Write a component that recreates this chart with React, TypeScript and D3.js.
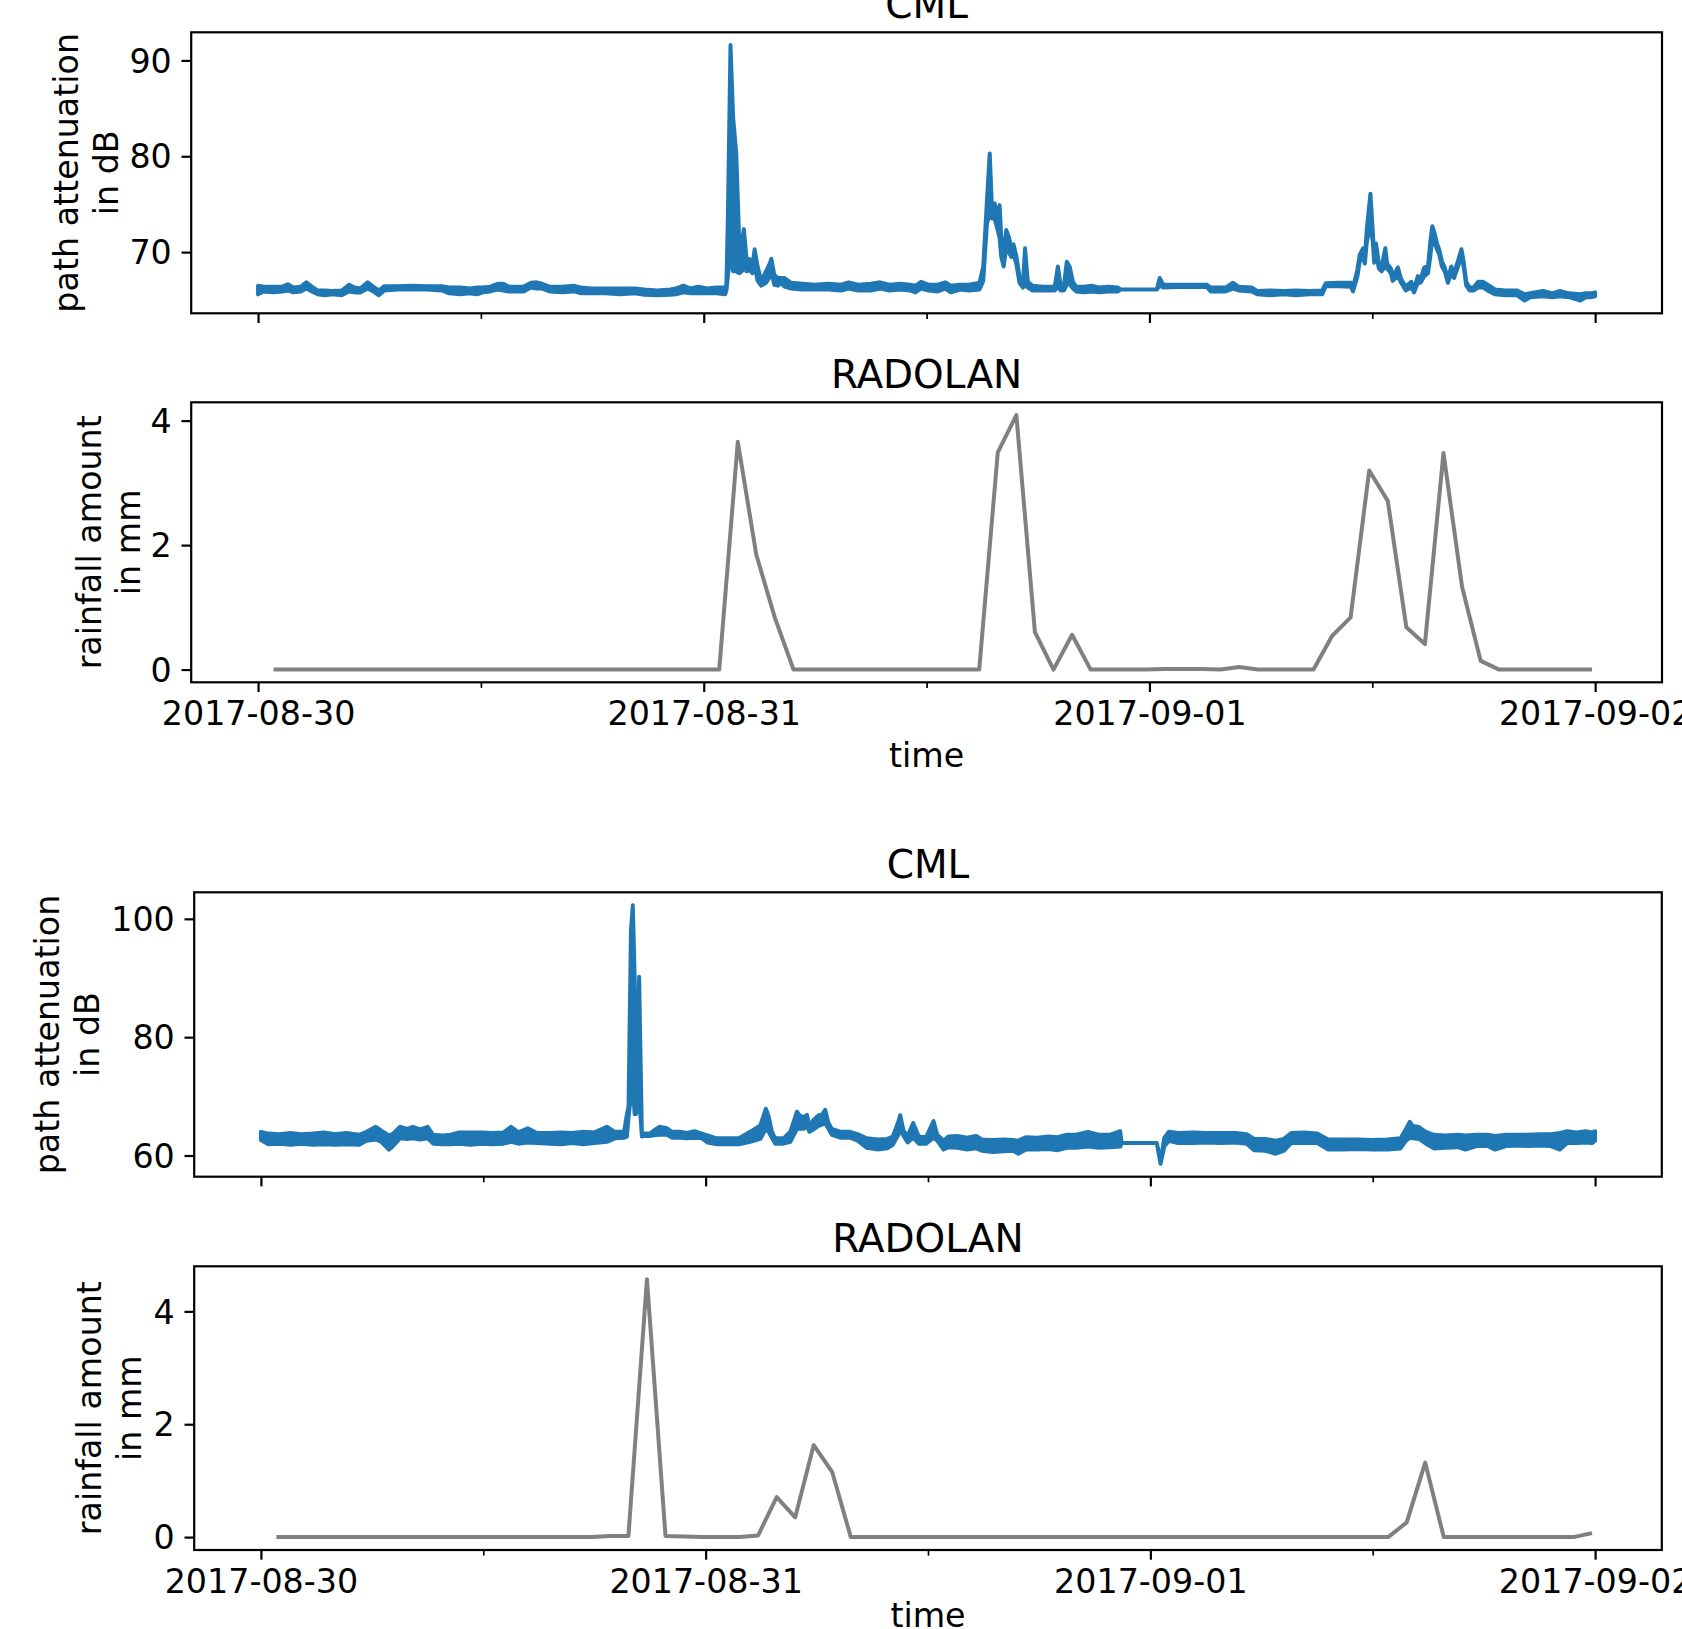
'use client';

import React, { useEffect, useRef } from 'react';
import * as d3 from 'd3';

const T0 = Date.UTC(2017, 7, 30);
const HOUR = 3600 * 1000;
const RADOLAN_START = Date.parse('2017-08-30T00:50:00Z'); // RADOLAN RW sums are stamped at hh:50

// [hours since 2017-08-30 00:00 UTC, low, high] of the dense 1-min CML signal (dB)
type Band = [number, number, number];

const cmlTop: Band[] = [
  [0.0, 65.6, 66.5], [0.3, 65.9, 66.4], [0.8, 65.8, 66.4], [1.3, 65.9, 66.4], [1.6, 66.0, 66.65],
  [1.9, 65.8, 66.3], [2.3, 65.9, 66.4], [2.6, 66.2, 66.85], [2.9, 65.9, 66.4], [3.2, 65.6, 66.0],
  [3.6, 65.5, 66.0], [4.0, 65.6, 65.95], [4.5, 65.5, 66.0], [4.9, 65.9, 66.6], [5.2, 65.8, 66.3],
  [5.5, 65.8, 66.2], [5.9, 66.2, 66.85], [6.2, 65.9, 66.4], [6.5, 65.5, 66.0], [6.8, 66.0, 66.45],
  [7.5, 66.1, 66.45], [8.3, 66.1, 66.5], [9.1, 66.1, 66.45], [9.9, 66.0, 66.45], [10.3, 65.7, 66.3],
  [10.9, 65.6, 66.3], [11.4, 65.7, 66.2], [11.8, 65.6, 66.3], [12.1, 65.8, 66.3], [12.5, 65.9, 66.4],
  [12.9, 66.1, 66.7], [13.2, 66.0, 66.7], [13.5, 65.9, 66.4], [13.9, 65.9, 66.4], [14.3, 65.9, 66.4],
  [14.7, 66.3, 66.8], [15.0, 66.2, 66.85], [15.3, 66.2, 66.7], [15.7, 65.9, 66.4], [16.4, 65.8, 66.4],
  [17.0, 65.9, 66.5], [17.4, 65.7, 66.3], [17.9, 65.7, 66.2], [18.7, 65.7, 66.2], [19.5, 65.6, 66.2],
  [20.3, 65.7, 66.2], [20.8, 65.55, 66.1], [21.5, 65.5, 66.0], [22.2, 65.55, 66.1], [22.5, 65.6, 66.2],
  [22.9, 65.8, 66.5], [23.3, 65.7, 66.2], [23.7, 65.7, 66.4], [24.2, 65.7, 66.2], [24.7, 65.7, 66.3],
  [25.15, 65.6, 66.3], [25.22, 66.0, 66.6], [25.3, 67.5, 73.6], [25.44, 70.0, 91.6], [25.58, 68.0, 84.1],
  [25.75, 68.0, 80.3], [25.92, 67.8, 70.5], [26.05, 68.0, 70.8], [26.16, 68.5, 72.4], [26.3, 68.0, 69.4],
  [26.5, 68.1, 69.2], [26.62, 67.8, 68.6], [26.74, 68.6, 70.3], [26.9, 67.0, 68.5], [27.1, 66.5, 67.0],
  [27.35, 66.8, 68.0], [27.55, 67.4, 68.8], [27.64, 68.0, 69.3], [27.8, 66.6, 67.6], [28.0, 66.5, 67.3],
  [28.15, 66.8, 67.3], [28.35, 66.4, 67.3], [28.7, 66.2, 66.8], [29.3, 66.1, 66.7], [30.0, 66.1, 66.6],
  [30.7, 66.1, 66.7], [31.4, 66.0, 66.6], [31.8, 66.2, 66.85], [32.3, 66.0, 66.6], [33.0, 66.0, 66.7],
  [33.5, 66.2, 66.85], [34.0, 66.0, 66.6], [34.6, 66.1, 66.7], [35.1, 66.0, 66.6], [35.4, 65.8, 66.5],
  [35.7, 66.2, 66.9], [36.1, 66.0, 66.6], [36.6, 65.9, 66.6], [37.0, 66.2, 66.85], [37.3, 65.8, 66.5],
  [37.8, 66.1, 66.6], [38.3, 66.0, 66.6], [38.85, 66.1, 66.8], [39.05, 67.0, 68.5], [39.25, 73.0, 75.4],
  [39.4, 74.0, 80.3], [39.52, 73.5, 74.5], [39.66, 73.5, 75.1], [39.8, 72.5, 73.8], [39.93, 71.5, 74.9],
  [40.02, 69.5, 71.5], [40.15, 68.5, 70.0], [40.29, 70.5, 72.3], [40.42, 70.0, 71.6], [40.56, 69.5, 70.5],
  [40.68, 69.8, 70.8], [40.83, 68.8, 69.6], [41.0, 66.8, 67.5], [41.19, 66.3, 66.7], [41.3, 66.6, 70.4],
  [41.45, 66.3, 66.9], [41.7, 66.0, 66.5], [42.3, 66.0, 66.4], [42.9, 66.0, 66.4], [43.07, 66.4, 68.5],
  [43.22, 66.0, 66.5], [43.4, 66.0, 66.6], [43.55, 66.6, 69.0], [43.7, 66.7, 68.5], [43.88, 66.2, 66.9],
  [44.06, 65.9, 66.4], [44.5, 65.8, 66.4], [44.9, 65.9, 66.5], [45.3, 65.8, 66.3], [45.8, 65.9, 66.4],
  [46.3, 65.9, 66.3], [46.45, 66.1, 66.1], [48.4, 66.1, 66.1], [48.55, 66.5, 67.3], [48.75, 66.3, 66.6],
  [49.5, 66.35, 66.6], [50.3, 66.35, 66.6], [51.1, 66.35, 66.6], [51.3, 65.9, 66.3], [52.1, 65.9, 66.3],
  [52.5, 66.2, 66.8], [52.8, 66.0, 66.4], [53.5, 65.9, 66.3], [53.8, 65.6, 65.95], [54.5, 65.5, 66.0],
  [55.2, 65.6, 65.95], [55.9, 65.5, 66.0], [56.6, 65.6, 65.95], [57.3, 65.6, 66.0], [57.5, 66.45, 66.75],
  [58.2, 66.45, 66.8], [58.85, 66.4, 66.8], [58.96, 65.9, 66.3], [59.2, 67.5, 68.2], [59.32, 69.0, 69.7],
  [59.5, 69.5, 70.4], [59.6, 68.8, 69.4], [59.7, 71.0, 72.3], [59.9, 73.0, 76.1], [60.03, 71.0, 72.0],
  [60.1, 68.9, 69.5], [60.2, 70.0, 70.9], [60.35, 68.3, 68.8], [60.5, 68.0, 68.5], [60.7, 68.5, 70.4],
  [60.8, 68.3, 68.8], [61.0, 67.8, 68.3], [61.1, 67.0, 67.5], [61.38, 67.5, 68.4], [61.55, 66.8, 67.2],
  [61.8, 66.0, 66.4], [62.1, 66.3, 66.9], [62.25, 65.8, 66.1], [62.45, 66.8, 67.5], [62.6, 66.8, 67.2],
  [62.8, 67.5, 68.4], [63.0, 67.8, 68.5], [63.12, 69.5, 71.0], [63.23, 71.5, 72.7], [63.35, 71.0, 72.0],
  [63.5, 70.2, 70.8], [63.6, 69.8, 70.3], [63.75, 68.5, 69.0], [63.9, 68.0, 68.4], [64.07, 66.8, 67.2],
  [64.25, 67.8, 68.5], [64.4, 67.3, 67.8], [64.6, 68.4, 69.0], [64.8, 69.5, 70.3], [64.92, 68.5, 69.0],
  [65.06, 66.5, 66.9], [65.24, 66.0, 66.3], [65.45, 66.0, 66.3], [65.7, 66.3, 66.9], [65.95, 66.3, 66.9],
  [66.3, 65.9, 66.5], [66.6, 65.6, 66.1], [67.2, 65.5, 66.0], [67.8, 65.5, 66.0], [68.2, 64.95, 65.6],
  [68.5, 65.3, 65.7], [69.2, 65.4, 65.95], [69.7, 65.3, 65.7], [70.1, 65.4, 65.95], [70.6, 65.3, 65.7],
  [71.2, 64.95, 65.6], [71.5, 65.3, 65.7], [71.8, 65.3, 65.7], [72.0, 65.4, 65.8],
];

const cmlBottom: Band[] = [
  [0.0, 62.6, 64.0], [0.4, 61.9, 63.7], [1.0, 62.0, 63.6], [1.6, 61.8, 63.8], [2.2, 62.0, 63.6],
  [2.8, 61.8, 63.7], [3.4, 61.9, 63.9], [4.0, 61.8, 63.6], [4.6, 61.9, 63.8], [5.3, 61.8, 63.5],
  [5.7, 62.5, 64.0], [6.2, 62.7, 64.85], [6.5, 62.3, 64.2], [6.9, 61.0, 63.4], [7.1, 61.5, 63.6],
  [7.5, 62.9, 64.85], [7.9, 62.8, 64.5], [8.2, 62.9, 64.85], [8.6, 62.7, 64.4], [9.0, 62.9, 64.85],
  [9.3, 62.0, 63.5], [9.8, 61.9, 63.4], [10.25, 61.9, 63.5], [10.7, 62.0, 63.9], [11.3, 61.8, 63.9],
  [11.9, 62.0, 63.9], [12.5, 61.9, 63.8], [13.1, 62.0, 63.9], [13.5, 62.3, 64.85], [13.9, 62.0, 63.9],
  [14.4, 62.2, 64.6], [14.9, 62.1, 63.8], [15.6, 62.0, 63.8], [16.2, 61.9, 63.9], [16.8, 62.1, 63.8],
  [17.4, 61.9, 64.0], [18.0, 62.1, 63.9], [18.67, 62.3, 64.85], [19.1, 62.9, 64.0], [19.6, 63.0, 64.0],
  [19.75, 63.2, 66.9], [19.84, 66.5, 68.3], [19.97, 70.0, 98.1], [20.07, 72.0, 102.3], [20.17, 67.0, 90.0],
  [20.24, 67.0, 67.5], [20.41, 70.0, 90.2], [20.56, 63.2, 63.6], [20.65, 63.3, 63.7], [21.0, 63.3, 63.7],
  [21.2, 63.4, 64.2], [21.5, 63.5, 64.85], [21.9, 63.5, 64.6], [22.2, 63.0, 64.0], [22.6, 63.0, 64.0],
  [23.0, 62.9, 63.8], [23.4, 63.0, 64.1], [23.8, 62.9, 63.7], [24.1, 62.2, 63.4], [24.6, 61.9, 62.9],
  [25.2, 61.9, 62.9], [25.8, 61.9, 62.9], [26.4, 62.3, 64.0], [26.95, 62.8, 65.1], [27.25, 64.5, 67.9],
  [27.4, 64.0, 66.6], [27.58, 63.0, 64.0], [27.75, 62.0, 62.9], [28.2, 62.0, 62.9], [28.57, 62.3, 64.0],
  [28.93, 64.5, 67.4], [29.1, 64.5, 66.7], [29.28, 64.5, 66.5], [29.47, 65.0, 66.85], [29.6, 64.0, 65.0],
  [29.82, 64.4, 66.0], [30.1, 65.0, 66.8], [30.28, 65.2, 66.9], [30.45, 65.5, 67.7], [30.63, 64.5, 65.5],
  [30.81, 63.5, 64.5], [31.3, 63.0, 64.0], [31.8, 63.0, 64.0], [32.2, 62.5, 63.6], [32.7, 61.3, 62.9],
  [33.3, 61.0, 62.7], [33.8, 61.2, 62.8], [34.1, 61.8, 63.2], [34.4, 63.5, 65.7], [34.5, 64.5, 66.8],
  [34.68, 63.3, 64.2], [34.9, 62.2, 63.3], [35.2, 63.0, 65.5], [35.5, 62.0, 63.2], [35.9, 62.0, 63.1],
  [36.3, 63.0, 65.8], [36.5, 62.5, 63.5], [36.84, 61.0, 62.5], [37.1, 61.4, 63.2], [37.6, 61.3, 63.3],
  [38.1, 61.0, 63.0], [38.6, 61.2, 63.3], [38.9, 60.8, 62.7], [39.5, 60.6, 62.6], [40.1, 60.7, 62.7],
  [40.6, 60.8, 62.6], [40.87, 60.3, 62.5], [41.3, 61.0, 63.1], [41.9, 61.0, 63.0], [42.5, 61.1, 63.2],
  [43.0, 60.9, 63.1], [43.5, 61.3, 63.5], [44.0, 61.3, 63.5], [44.63, 61.5, 64.0], [45.2, 61.3, 63.5],
  [45.8, 61.4, 63.5], [46.37, 61.5, 64.1], [46.45, 62.1, 62.1], [48.35, 62.1, 62.1], [48.55, 58.6, 59.0],
  [48.75, 61.5, 63.0], [49.0, 62.5, 64.0], [49.5, 62.1, 63.8], [50.3, 62.1, 63.9], [51.0, 62.2, 63.8],
  [51.8, 62.1, 63.8], [52.6, 62.2, 63.8], [53.2, 62.0, 63.6], [53.6, 60.9, 62.8], [54.2, 60.8, 62.8],
  [54.76, 60.3, 62.5], [55.2, 60.8, 62.8], [55.6, 62.1, 63.8], [56.3, 62.1, 63.9], [57.0, 62.1, 63.7],
  [57.6, 61.0, 62.7], [58.4, 61.0, 62.7], [59.2, 61.1, 62.7], [60.0, 61.0, 62.6], [60.8, 61.0, 62.7],
  [61.5, 61.2, 62.9], [61.8, 62.5, 64.5], [62.0, 63.0, 65.7], [62.15, 62.9, 65.0], [62.5, 62.8, 64.8],
  [62.87, 62.0, 64.0], [63.3, 61.2, 63.5], [63.9, 61.3, 63.4], [64.6, 61.4, 63.5], [65.0, 61.0, 63.4],
  [65.6, 61.6, 63.5], [66.2, 61.6, 63.5], [66.6, 61.0, 63.3], [67.2, 61.6, 63.5], [67.8, 61.7, 63.5],
  [68.4, 61.6, 63.5], [69.0, 61.7, 63.6], [69.6, 61.6, 63.6], [70.1, 61.0, 63.8], [70.5, 62.1, 64.1],
  [71.0, 62.1, 63.9], [71.5, 62.2, 64.1], [71.84, 62.1, 63.9], [72.0, 62.5, 64.1],
];

// hourly RADOLAN rainfall (mm), 72 values from 2017-08-30 00:50 to 2017-09-01 23:50
const radolanTop = [
  0, 0, 0, 0, 0, 0, 0, 0, 0, 0, 0, 0,
  0, 0, 0, 0, 0, 0, 0, 0, 0, 0, 0, 0,
  0, 3.66, 1.84, 0.83, 0, 0, 0, 0, 0, 0, 0, 0,
  0, 0, 0, 3.49, 4.09, 0.6, 0, 0.56, 0, 0, 0, 0,
  0.01, 0.01, 0.01, 0, 0.04, 0, 0, 0, 0, 0.54, 0.84, 3.2,
  2.71, 0.68, 0.41, 3.48, 1.33, 0.14, 0, 0, 0, 0, 0, 0,
];

const radolanBottom = [
  0, 0, 0, 0, 0, 0, 0, 0, 0, 0, 0, 0,
  0, 0, 0, 0, 0, 0, 0.02, 0.02, 4.57, 0.02, 0.01, 0,
  0, 0, 0.03, 0.71, 0.35, 1.63, 1.15, 0, 0, 0, 0, 0,
  0, 0, 0, 0, 0, 0, 0, 0, 0, 0, 0, 0,
  0, 0, 0, 0, 0, 0, 0, 0, 0, 0, 0, 0,
  0, 0.26, 1.32, 0, 0, 0, 0, 0, 0, 0, 0, 0.07,
];

const dayTicks = ['2017-08-30', '2017-08-31', '2017-09-01', '2017-09-02'];
const halfDayTicks = ['2017-08-30T12:00:00Z', '2017-08-31T12:00:00Z', '2017-09-01T12:00:00Z'];
const cmlTopTicks = [70, 80, 90];
const cmlBottomTicks = [60, 80, 100];
const radolanTicks = [0, 2, 4];

const W = 1682;
const H = 1629;
const FONT = "'DejaVu Sans', sans-serif";
const BLUE = '#1f77b4';
const GREY = '#808080';
const TICK_PX = 33.3;

interface Box { left: number; right: number; top: number; bottom: number; }

interface PanelSpec {
  box: Box;
  title: string;
  ylabel: [string, string];
  ylabelX: [number, number];
  yTicks: number[];
  band?: Band[];
  rain?: number[];
  dates: boolean;
  timeY?: number;
}

function drawPanel(svg: d3.Selection<SVGSVGElement, unknown, null, undefined>, p: PanelSpec) {
  const { box } = p;
  const g = svg.append('g');

  // shared time axis: data span 0..72 h plus matplotlib's 5% margins
  const hExt = d3.extent(cmlTop, d => d[0]) as [number, number];
  const hPad = (hExt[1] - hExt[0]) * 0.05;
  const x = d3.scaleUtc()
    .domain([new Date(T0 + (hExt[0] - hPad) * HOUR), new Date(T0 + (hExt[1] + hPad) * HOUR)])
    .range([box.left, box.right]);

  const vals = p.band ? p.band.flatMap(d => [d[1], d[2]]) : (p.rain as number[]);
  const [lo, hi] = d3.extent(vals) as [number, number];
  const yPad = (hi - lo) * 0.05;
  const y = d3.scaleLinear().domain([lo - yPad, hi + yPad]).range([box.bottom, box.top]);

  if (p.band) {
    const area = d3.area<Band>()
      .x(d => x(new Date(T0 + d[0] * HOUR)))
      .y0(d => y(d[1]))
      .y1(d => y(d[2]));
    g.append('path')
      .datum(p.band)
      .attr('d', area)
      .attr('fill', BLUE)
      .attr('stroke', BLUE)
      .attr('stroke-width', 4)
      .attr('stroke-linejoin', 'round');
  }

  if (p.rain) {
    const line = d3.line<number>()
      .x((_, i) => x(new Date(RADOLAN_START + i * HOUR)))
      .y(d => y(d));
    g.append('path')
      .datum(p.rain)
      .attr('d', line)
      .attr('fill', 'none')
      .attr('stroke', GREY)
      .attr('stroke-width', 4)
      .attr('stroke-linejoin', 'round');
  }

  // x axis: major day ticks, minor 12:00 ticks
  const xMajor = d3.axisBottom(x)
    .tickValues(dayTicks.map(d => new Date(d)))
    .tickSize(9.7)
    .tickPadding(9.7)
    .tickFormat(p.dates ? (d => d3.utcFormat('%Y-%m-%d')(d as Date)) : () => '');
  const xMinor = d3.axisBottom(x)
    .tickValues(halfDayTicks.map(d => new Date(d)))
    .tickSize(5.6)
    .tickFormat(() => '');

  const gx = g.append('g').attr('transform', `translate(0,${box.bottom})`).call(xMajor);
  gx.selectAll('line').attr('stroke-width', 2.2);
  const gxm = g.append('g').attr('transform', `translate(0,${box.bottom})`).call(xMinor);
  gxm.selectAll('line').attr('stroke-width', 1.7);

  const yAxis = d3.axisLeft(y)
    .tickValues(p.yTicks)
    .tickSize(9.7)
    .tickPadding(9.7)
    .tickFormat(d3.format('d'));
  const gy = g.append('g').attr('transform', `translate(${box.left},0)`).call(yAxis);
  gy.selectAll('line').attr('stroke-width', 2.2);
  gy.selectAll('text').attr('dy', '0.35em');

  [gx, gxm, gy].forEach(a => {
    a.select('.domain').remove();
    a.attr('font-family', FONT).attr('font-size', TICK_PX);
    a.selectAll('text').attr('fill', '#000');
    a.selectAll('line').attr('stroke', '#000');
  });

  // frame
  g.append('rect')
    .attr('x', box.left)
    .attr('y', box.top)
    .attr('width', box.right - box.left)
    .attr('height', box.bottom - box.top)
    .attr('fill', 'none')
    .attr('stroke', '#000')
    .attr('stroke-width', 2.2);

  const cx = (box.left + box.right) / 2;
  g.append('text')
    .attr('x', cx)
    .attr('y', box.top - 14.5)
    .attr('text-anchor', 'middle')
    .attr('font-family', FONT)
    .attr('font-size', 39)
    .text(p.title);

  const cy = (box.top + box.bottom) / 2;
  p.ylabel.forEach((txt, i) => {
    g.append('text')
      .attr('transform', `translate(${p.ylabelX[i]},${cy}) rotate(-90)`)
      .attr('text-anchor', 'middle')
      .attr('font-family', FONT)
      .attr('font-size', TICK_PX)
      .text(txt);
  });

  if (p.timeY !== undefined) {
    g.append('text')
      .attr('x', cx)
      .attr('y', p.timeY)
      .attr('text-anchor', 'middle')
      .attr('font-family', FONT)
      .attr('font-size', TICK_PX)
      .text('time');
  }
}

export default function App() {
  const svgRef = useRef<SVGSVGElement>(null);

  useEffect(() => {
    if (!svgRef.current) return;
    const svg = d3.select(svgRef.current);
    svg.selectAll('*').remove();

    drawPanel(svg, {
      box: { left: 191.2, right: 1662, top: 32.3, bottom: 313.3 },
      title: 'CML',
      ylabel: ['path attenuation', 'in dB'],
      ylabelX: [78, 118],
      yTicks: cmlTopTicks,
      band: cmlTop,
      dates: false,
    });
    drawPanel(svg, {
      box: { left: 191.2, right: 1662, top: 402.3, bottom: 682.3 },
      title: 'RADOLAN',
      ylabel: ['rainfall amount', 'in mm'],
      ylabelX: [100.5, 140],
      yTicks: radolanTicks,
      rain: radolanTop,
      dates: true,
      timeY: 766.5,
    });
    drawPanel(svg, {
      box: { left: 194.2, right: 1661.8, top: 892.3, bottom: 1176.7 },
      title: 'CML',
      ylabel: ['path attenuation', 'in dB'],
      ylabelX: [59.2, 99.2],
      yTicks: cmlBottomTicks,
      band: cmlBottom,
      dates: false,
    });
    drawPanel(svg, {
      box: { left: 194.2, right: 1661.8, top: 1266.3, bottom: 1550 },
      title: 'RADOLAN',
      ylabel: ['rainfall amount', 'in mm'],
      ylabelX: [101, 141],
      yTicks: radolanTicks,
      rain: radolanBottom,
      dates: true,
      timeY: 1627,
    });
  }, []);

  return (
    <svg
      ref={svgRef}
      width={W}
      height={H}
      style={{ position: 'absolute', left: 0, top: 0, background: '#fff', display: 'block' }}
    />
  );
}
